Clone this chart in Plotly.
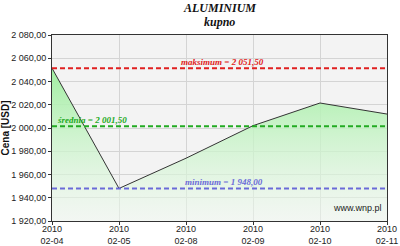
import plotly.graph_objects as go

dates = ["2010<br>02-04", "2010<br>02-05", "2010<br>02-08", "2010<br>02-09", "2010<br>02-10", "2010<br>02-11"]
values = [2051.5, 1948.0, 1974.0, 2002.0, 2021.5, 2012.0]
y_ticks = [1920, 1940, 1960, 1980, 2000, 2020, 2040, 2060, 2080]
y_ticktext = ["1 920,00", "1 940,00", "1 960,00", "1 980,00", "2 000,00", "2 020,00", "2 040,00", "2 060,00", "2 080,00"]
max_v, avg_v, min_v = 2051.5, 2001.5, 1948.0

xs = list(range(len(dates)))
fig = go.Figure()
fig.add_trace(go.Scatter(
    x=xs, y=values, mode="lines",
    line=dict(color="#333333", width=1),
    fill="tozeroy",
    fillgradient=dict(type="vertical", start=1920, stop=2052,
                      colorscale=[[0, "rgba(242,250,242,0.5)"], [1, "rgb(160,238,160)"]]),
    showlegend=False, hoverinfo="skip"))

serif = "Liberation Serif"
for val, col, label, lx in [(max_v, "#e02020", "maksimum = 2 051,50", 1.9),
                            (avg_v, "#22aa22", "średnia = 2 001,50", 0.04),
                            (min_v, "#6a6ad8", "minimum = 1 948,00", 1.95)]:
    fig.add_shape(type="line", x0=0, x1=5, y0=val, y1=val, xref="x", yref="y",
                  line=dict(color=col, width=2, dash="5px,3px"))
    fig.add_annotation(x=lx, y=val, xref="x", yref="y", text=label, showarrow=False,
                       xanchor="left", yanchor="bottom", yshift=-1,
                       font=dict(family=serif, size=9, color=col, style="italic", weight="bold"))

fig.add_annotation(x=4.96, y=1925, xref="x", yref="y", text="www.wnp.pl", showarrow=False,
                   xanchor="right", yanchor="bottom",
                   font=dict(family="Liberation Sans", size=9, color="#222222"))

plot_h = 246 - 35 - 25
for txt, py in [("ALUMINIUM", 8), ("kupno", 22)]:
    fig.add_annotation(x=0.5, y=1 + (35 - py) / plot_h, xref="paper", yref="paper", text=txt,
                       showarrow=False, xanchor="center", yanchor="middle",
                       font=dict(family=serif, size=12, color="#111111", style="italic", weight="bold"))

fig.update_layout(
    width=400, height=246,
    margin=dict(l=52, r=13, t=35, b=25),
    paper_bgcolor="white", plot_bgcolor="#f3f3f3",
    xaxis=dict(range=[0, 5], tickvals=xs, ticktext=dates, showgrid=True, gridcolor="#d4d4d4",
               ticks="outside", ticklen=3, tickcolor="#333333", linecolor="#333333", linewidth=1,
               mirror=True, showline=True, zeroline=False, automargin=False,
               ticklabelstandoff=-4,
               tickfont=dict(family="Liberation Sans", size=9, color="#222222")),
    yaxis=dict(range=[1920, 2080], tickvals=y_ticks, ticktext=y_ticktext, showgrid=True,
               gridcolor="#d4d4d4", ticks="outside", ticklen=3, tickcolor="#333333",
               linecolor="#333333", linewidth=1, mirror=True, showline=True, zeroline=False,
               automargin=False,
               title=dict(text="Cena [USD]", standoff=0,
                          font=dict(family="Liberation Sans", size=10, color="#111111", weight="bold")),
               tickfont=dict(family="Liberation Sans", size=9, color="#222222")),
)
fig.write_html("out.html")
